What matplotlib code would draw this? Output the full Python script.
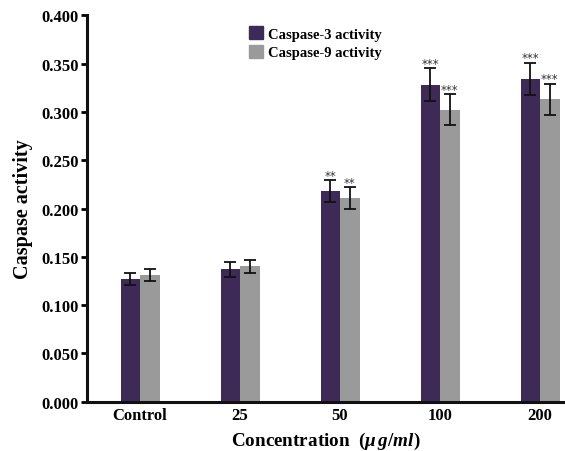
import numpy as np
import matplotlib
matplotlib.use("Agg")
import matplotlib.pyplot as plt
import matplotlib.patches as mpatches

# ── data ──────────────────────────────────────────────────────────────────────
categories = ["Control", "25", "50", "100", "200"]
casp3 = [0.127, 0.137, 0.218, 0.328, 0.334]
casp3_err = [0.0065, 0.0075, 0.011, 0.017, 0.017]
casp9 = [0.131, 0.140, 0.211, 0.302, 0.313]
casp9_err = [0.0065, 0.0070, 0.011, 0.016, 0.016]
casp3_sig = ["", "", "**", "***", "***"]
casp9_sig = ["", "", "**", "***", "***"]
yticks = [0.0, 0.05, 0.10, 0.15, 0.20, 0.25, 0.30, 0.35, 0.40]

PURPLE = "#3e2a57"
GRAY = "#9a9a9a"

plt.rcParams["font.family"] = ["Liberation Serif", "DejaVu Serif"]
plt.rcParams["font.weight"] = "bold"
plt.rcParams["mathtext.fontset"] = "custom"
plt.rcParams["mathtext.it"] = "Liberation Serif:italic:bold"
plt.rcParams["mathtext.rm"] = "Liberation Serif:bold"

fig = plt.figure(figsize=(5.65, 4.52), dpi=100)
ax = fig.add_axes([0.154, 0.109, 0.846, 0.855])

x = np.arange(len(categories))
w = 0.195
err_kw = dict(ecolor="#111111", elinewidth=1.3, capsize=4.5, capthick=1.3)
ax.bar(x - w / 2, casp3, w, yerr=casp3_err, color=PURPLE, error_kw=err_kw,
       label="Caspase-3 activity")
ax.bar(x + w / 2, casp9, w, yerr=casp9_err, color=GRAY, error_kw=err_kw,
       label="Caspase-9 activity")

# significance stars
for offs, vals, errs, sigs in [(-w / 2, casp3, casp3_err, casp3_sig),
                               (w / 2, casp9, casp9_err, casp9_sig)]:
    for xi, v, e, s in zip(x + offs, vals, errs, sigs):
        if s:
            ax.text(xi, v + e - 0.0015, s, ha="center", va="bottom", fontsize=8.5,
                    fontweight="normal", color="#333333", family="DejaVu Sans")

ax.set_xlim(-0.53, 4.25)
ax.set_ylim(0, 0.4)
ax.set_yticks(yticks)
ax.set_yticklabels([f"{t:.3f}" for t in yticks])
ax.set_xticks(x)
ax.set_xticklabels(categories)
ax.tick_params(axis="y", direction="out", length=4, width=2, labelsize=12, pad=2)
ax.tick_params(axis="x", length=0, labelsize=12, pad=4)

for side in ["top", "right"]:
    ax.spines[side].set_visible(False)
for side in ["left", "bottom"]:
    ax.spines[side].set_linewidth(2.2)
    ax.spines[side].set_color("#111111")

ax.set_ylabel("Caspase activity", fontsize=14.5, fontweight="bold", labelpad=6)
ax.set_xlabel(r"Concentration  ($\mu\,g/ml$)", fontsize=13.8, fontweight="bold",
              labelpad=5)

handles = [
    mpatches.Patch(color=PURPLE, label="Caspase-3 activity"),
    mpatches.Patch(color=GRAY, label="Caspase-9 activity"),
]
fig.legend(handles=handles, loc="upper left", bbox_to_anchor=(0.43, 0.953),
           frameon=False, fontsize=10.5, handlelength=1.0, handleheight=1.0,
           handletextpad=0.3, labelspacing=0.3, borderaxespad=0)

fig.savefig("out.png", dpi=100)
